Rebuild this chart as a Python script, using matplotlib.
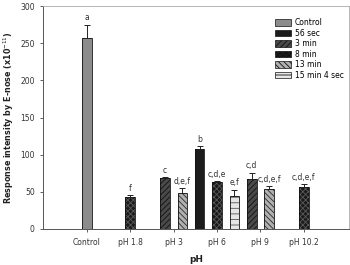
import matplotlib.pyplot as plt
from matplotlib.patches import Patch

# group labels on the x axis
ph_labels = ['Control', 'pH 1.8', 'pH 3', 'pH 6', 'pH 9', 'pH 10.2']

# series (heating time) names shown in the legend
series_names = ['Control', '56 sec', '3 min', '8 min', '13 min', '15 min 4 sec']

# one entry per bar
bar_group = [0, 1, 2, 2, 3, 3, 3, 4, 4, 5]
bar_series = ['Control', '8 min', '3 min', '13 min', '56 sec', '8 min',
              '15 min 4 sec', '3 min', '13 min', '8 min']
bar_values = [257, 43.5, 68, 49, 108, 63, 45, 67, 54, 56]
bar_errors = [18, 2, 2, 5.5, 3.5, 1.5, 8, 9, 3.5, 4.5]
bar_letters = ['a', 'f', 'c', 'd,e,f', 'b', 'c,d,e', 'e,f', 'c,d', 'c,d,e,f', 'c,d,e,f']

# fill colour, hatch, hatch colour
styles = {
    'Control': ('#8c8c8c', '', '#8c8c8c'),
    '56 sec': ('#1c1c1c', '', '#1c1c1c'),
    '3 min': ('#4a4a4a', '//////', '#111111'),
    '8 min': ('#1a1a1a', 'xxxxxx', '#5a5a5a'),
    '13 min': ('#b0b0b0', '\\\\\\\\\\\\', '#2a2a2a'),
    '15 min 4 sec': ('#e6e6e6', '---', '#555555'),
}

plt.rcParams['hatch.linewidth'] = 0.6
fig = plt.figure(figsize=(3.5, 2.65), dpi=100)
ax = fig.add_axes([0.123, 0.136, 0.874, 0.841])

width = 0.22
step = 0.4
for g in range(len(ph_labels)):
    idx = [i for i, b in enumerate(bar_group) if b == g]
    n = len(idx)
    for k, i in enumerate(idx):
        x = g + (k - (n - 1) / 2) * step
        fc, hatch, hc = styles[bar_series[i]]
        ax.bar(x, bar_values[i], width, color=fc, hatch=hatch,
               edgecolor=hc, linewidth=0, zorder=2)
        ax.bar(x, bar_values[i], width, fill=False, edgecolor='#111111',
               linewidth=0.6, zorder=3)
        ax.errorbar(x, bar_values[i], yerr=[[0], [bar_errors[i]]], fmt='none',
                    ecolor='#222222', elinewidth=0.7, capsize=2.2,
                    capthick=0.7, zorder=4)
        ax.text(x, bar_values[i] + bar_errors[i] + 3, bar_letters[i],
                ha='center', va='bottom', fontsize=5.5, color='#333333')

ax.set_xlim(-1.01, 6.04)
ax.set_ylim(0, 300)
ax.set_yticks(range(0, 301, 50))
ax.set_xticks(range(len(ph_labels)))
ax.set_xticklabels(ph_labels)
ax.tick_params(axis='both', labelsize=5.5, labelcolor='#333333',
               color='#444444', width=0.6, length=2.5)
ax.tick_params(axis='x', pad=4)

for s in ['left', 'bottom']:
    ax.spines[s].set_color('#555555')
    ax.spines[s].set_linewidth(0.7)
for s in ['top', 'right']:
    ax.spines[s].set_color('#aaaaaa')
    ax.spines[s].set_linewidth(0.6)

ax.set_ylabel('Response intensity by E-nose (x10$^{-11}$)', fontsize=5.8,
              fontweight='bold', color='#222222', labelpad=3)
ax.set_xlabel('pH', fontsize=6.5, fontweight='bold', color='#222222', labelpad=6)

handles = []
for name in series_names:
    fc, hatch, hc = styles[name]
    handles.append(Patch(facecolor=fc, hatch=hatch, edgecolor='#111111',
                         linewidth=0.5, label=name))
ax.legend(handles=handles, loc='upper right', bbox_to_anchor=(1.0, 0.97),
          frameon=False, fontsize=5.5, handlelength=2.1, handleheight=0.95,
          labelspacing=0.2, handletextpad=0.5, borderaxespad=0.3)

fig.savefig('out.png', dpi=100)
